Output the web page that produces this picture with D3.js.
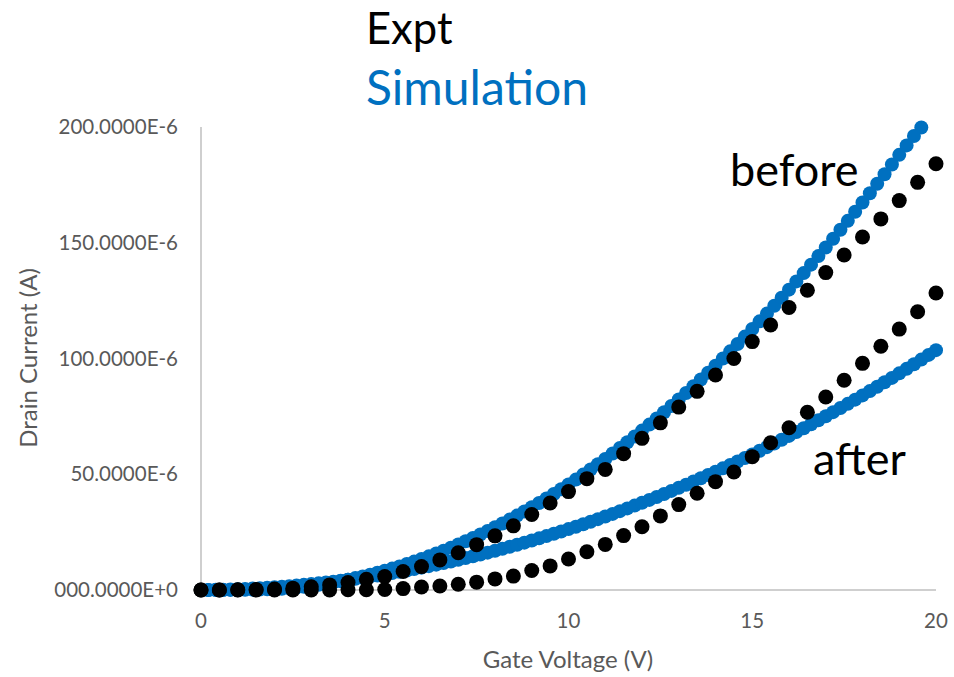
<!DOCTYPE html>
<html>
<head>
<meta charset="utf-8">
<script src="https://cdn.jsdelivr.net/npm/d3@7/dist/d3.min.js"></script>
<style>
  body { margin: 0; background: #fff; }
  text { font-family: Lato, "Open Sans", sans-serif; }
</style>
</head>
<body>
<script>
// Drain current values in micro-amps (E-6 A)
var exptVoltage = d3.range(0, 20.01, 0.5); // 0, 0.5 ... 20
var exptBefore = [0, 0, 0.1, 0.2, 0.4, 0.8, 1.4, 2.2, 3.2, 4.6, 5.8, 8.0, 10.1, 13.0, 16.1, 19.6, 23.4, 27.7, 32.6, 37.6,
  42.5, 48.1, 52.1, 58.9, 65.5, 72.2, 79.0, 85.8, 92.9, 100.0, 107.3, 114.5, 122.0, 129.5, 137.1, 144.7, 152.5, 160.3, 168.2, 176.1, 184.1];
var exptAfter = [0, 0, 0, 0, 0, 0, 0, 0, 0.1, 0.1, 0.2, 0.6, 1.3, 1.7, 2.5, 3.4, 4.8, 6.0, 8.4, 10.4,
  13.4, 16.5, 19.7, 23.5, 27.3, 32.0, 36.9, 41.8, 46.8, 51.0, 57.6, 63.6, 70.1, 76.8, 83.4, 90.6, 97.9, 105.3, 112.7, 120.2, 128.3];

var simVoltage = d3.range(0, 20.001, 0.2).map(function(v){ return +v.toFixed(1); }); // 0, 0.2 ... 20
var simBefore = [0.00, 0.00, 0.01, 0.02, 0.04, 0.07, 0.11, 0.16, 0.22, 0.30, 0.40, 0.55, 0.76, 1.06, 1.40, 1.79, 2.23, 2.71, 3.25, 3.83,
  4.46, 5.13, 5.86, 6.63, 7.45, 8.32, 9.24, 10.20, 11.21, 12.27, 13.38, 14.53, 15.74, 16.99, 18.29, 19.63, 21.03, 22.47, 23.96, 25.50,
  27.09, 28.72, 30.40, 32.13, 33.91, 35.73, 37.60, 39.53, 41.49, 43.51, 45.58, 47.69, 49.85, 52.06, 54.31, 56.61, 58.97, 61.37, 63.81, 66.31,
  68.85, 71.44, 74.08, 76.77, 79.50, 82.28, 85.11, 87.99, 90.91, 93.89, 96.91, 99.98, 103.09, 106.26, 109.47, 112.73, 116.04, 119.39, 122.80, 126.25,
  129.75, 133.30, 136.89, 140.54, 144.23, 147.97, 151.75, 155.59, 159.47, 163.40, 167.38, 171.40, 175.48, 179.60, 183.77, 187.98, 192.05, 196.10, 199.80];
var simAfter = [0.00, 0.03, 0.07, 0.14, 0.23, 0.34, 0.46, 0.61, 0.78, 0.97, 1.18, 1.41, 1.66, 1.93, 2.22, 2.54, 2.87, 3.22, 3.59, 3.99,
  4.40, 4.83, 5.29, 5.76, 6.26, 6.78, 7.31, 7.87, 8.44, 9.04, 9.66, 10.30, 10.96, 11.64, 12.34, 13.06, 13.80, 14.56, 15.34, 16.14,
  16.96, 17.80, 18.67, 19.55, 20.45, 21.38, 22.32, 23.28, 24.27, 25.27, 26.30, 27.35, 28.41, 29.50, 30.61, 31.74, 32.88, 34.05, 35.24, 36.45,
  37.68, 38.93, 40.20, 41.49, 42.80, 44.14, 45.49, 46.86, 48.25, 49.67, 51.10, 52.55, 54.03, 55.52, 57.04, 58.58, 60.13, 61.71, 63.31, 64.92,
  66.56, 68.22, 69.90, 71.60, 73.32, 75.06, 76.82, 78.60, 80.40, 82.22, 84.06, 85.92, 87.81, 89.71, 91.63, 93.58, 95.54, 97.52, 99.53, 101.55, 103.60];

var xTicks = [0, 5, 10, 15, 20];
var yTicks = [0, 50, 100, 150, 200];

var blue = '#0070C0';
var gray = '#595959';

var svg = d3.select('body').append('svg')
    .attr('width', 954)
    .attr('height', 677);

var x = d3.scaleLinear().domain([0, 20]).range([201, 936]);
var y = d3.scaleLinear().domain([0, 200]).range([590, 127]);

// axes lines
svg.append('line')
    .attr('x1', x(0)).attr('x2', x(0))
    .attr('y1', y(0)).attr('y2', y(200))
    .style('stroke', '#BFBFBF').style('stroke-width', 1.5);
svg.append('line')
    .attr('x1', x(0)).attr('x2', x(20))
    .attr('y1', y(0)).attr('y2', y(0))
    .style('stroke', '#BFBFBF').style('stroke-width', 1.5);

// tick labels (Excel style "000.0000E+0")
svg.selectAll('.ylab').data(yTicks).enter().append('text')
    .attr('class', 'ylab')
    .attr('x', 178)
    .attr('y', function(d){ return y(d) + 7; })
    .attr('text-anchor', 'end')
    .style('font-size', '20.5px')
    .style('fill', gray)
    .text(function(d){
        return d === 0 ? '000.0000E+0' : d + '.0000E-6';
    });

svg.selectAll('.xlab').data(xTicks).enter().append('text')
    .attr('class', 'xlab')
    .attr('x', function(d){ return x(d); })
    .attr('y', 628)
    .attr('text-anchor', 'middle')
    .style('font-size', '20.5px')
    .style('fill', gray)
    .text(function(d){ return d; });

// axis titles
svg.append('text')
    .attr('x', 568).attr('y', 668)
    .attr('text-anchor', 'middle')
    .style('font-size', '24px')
    .style('fill', gray)
    .text('Gate Voltage (V)');
svg.append('text')
    .attr('transform', 'translate(37,358) rotate(-90)')
    .attr('text-anchor', 'middle')
    .style('font-size', '24px')
    .style('fill', gray)
    .text('Drain Current (A)');

// simulation markers (drawn first, expt on top)
function drawSeries(xs, ys, r, color){
    svg.append('g').selectAll('circle')
        .data(xs.map(function(v, i){ return [v, ys[i]]; }).filter(function(p){ return p[1] !== undefined && p[1] <= 200; }))
        .enter().append('circle')
        .attr('cx', function(d){ return x(d[0]); })
        .attr('cy', function(d){ return y(d[1]); })
        .attr('r', r)
        .style('fill', color);
}
drawSeries(simVoltage, simAfter, 7, blue);
drawSeries(simVoltage, simBefore, 7, blue);
drawSeries(exptVoltage, exptAfter, 7.5, '#000');
drawSeries(exptVoltage, exptBefore, 7.5, '#000');

// labels
svg.append('text').attr('x', 366).attr('y', 44)
    .style('font-size', '43.5px').style('fill', '#000').text('Expt');
svg.append('text').attr('x', 366).attr('y', 105)
    .style('font-size', '48px').style('fill', blue).text('Simulation');
svg.append('text').attr('x', 730).attr('y', 186)
    .style('font-size', '45px').style('fill', '#000').text('before');
svg.append('text').attr('x', 813).attr('y', 475)
    .style('font-size', '45px').style('fill', '#000').text('after');
</script>
</body>
</html>
